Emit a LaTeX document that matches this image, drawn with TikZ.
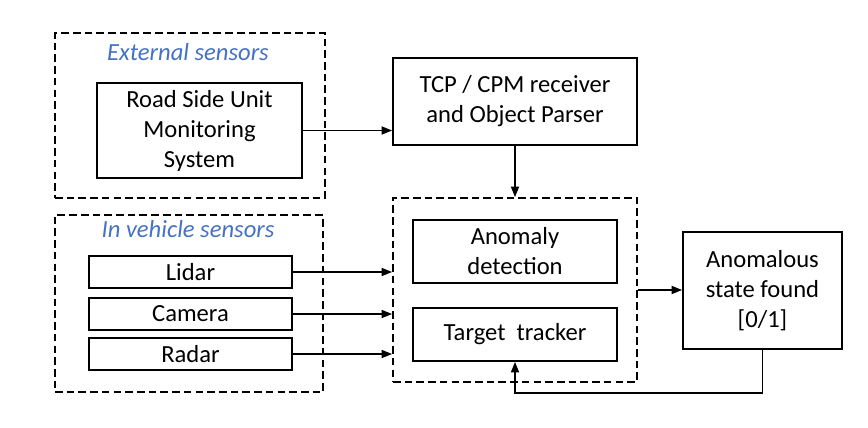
\documentclass[tikz,border=0pt]{standalone}
\usepackage{fontspec}
\setmainfont{Carlito}
\usetikzlibrary{arrows.meta}

\definecolor{labelblue}{HTML}{4472C4}

\begin{document}
\begin{tikzpicture}[x=0.3mm, y=-0.3mm,
  font=\fontsize{21}{25.6}\selectfont,
  box/.style={draw, line width=1.6pt, inner sep=0pt, align=center},
  group/.style={draw, line width=1.6pt, dash pattern=on 6.5pt off 3.5pt, inner sep=0pt},
  grouplabel/.style={text=labelblue, font=\fontsize{21}{25.6}\selectfont\itshape},
  link/.style={line width=1.1pt, -{Triangle[length=9pt, width=7pt]}}]
\useasboundingbox (0,0) rectangle (868,427);
% groups
\node[group, minimum width=81mm, minimum height=49.5mm] (ext) at (190,115.5) {};
\node[grouplabel] (extlabel) at (188,52) {External sensors};
\node[group, minimum width=80.4mm, minimum height=53.1mm] (veh) at (189,303.5) {};
\node[grouplabel] (vehlabel) at (188,229) {In vehicle sensors};
\node[group, minimum width=73.2mm, minimum height=55.2mm] (core) at (515,290) {};
% boxes
\node[box, minimum width=61.5mm, minimum height=28.5mm] (rsu) at (199.5,130.5) {Road Side Unit\\Monitoring\\System};
\node[box, minimum width=73.2mm, minimum height=26.1mm] (tcp) at (515,101.5) {TCP / CPM receiver\\and Object Parser};
\node[box, minimum width=61.2mm, minimum height=18.9mm] (anom) at (515,251.5) {Anomaly\\detection};
\node[box, minimum width=61.2mm, minimum height=15.9mm] (tracker) at (515,334.5) {Target\ \ tracker};
\node[box, minimum width=60.9mm, minimum height=9.6mm] (lidar) at (190.5,272) {Lidar};
\node[box, minimum width=60.9mm, minimum height=9.6mm] (camera) at (190.5,314) {Camera};
\node[box, minimum width=60.9mm, minimum height=9.6mm] (radar) at (190.5,354) {Radar};
\node[box, minimum width=47.7mm, minimum height=35.1mm] (state) at (762.5,290.5) {Anomalous\\state found\\{[0/1]}};
% links
\draw[link] (rsu.east) -- (rsu.east -| tcp.west);
\draw[link] (tcp.south) -- (core.north);
\draw[link] (lidar.east) -- (lidar.east -| core.west);
\draw[link] (camera.east) -- (camera.east -| core.west);
\draw[link] (radar.east) -- (radar.east -| core.west);
\draw[link] (core.east) -- (core.east -| state.west);
\coordinate (back) at (515,393);
\draw[link] (state.south) |- (back) -- (tracker.south);
\end{tikzpicture}
\end{document}
